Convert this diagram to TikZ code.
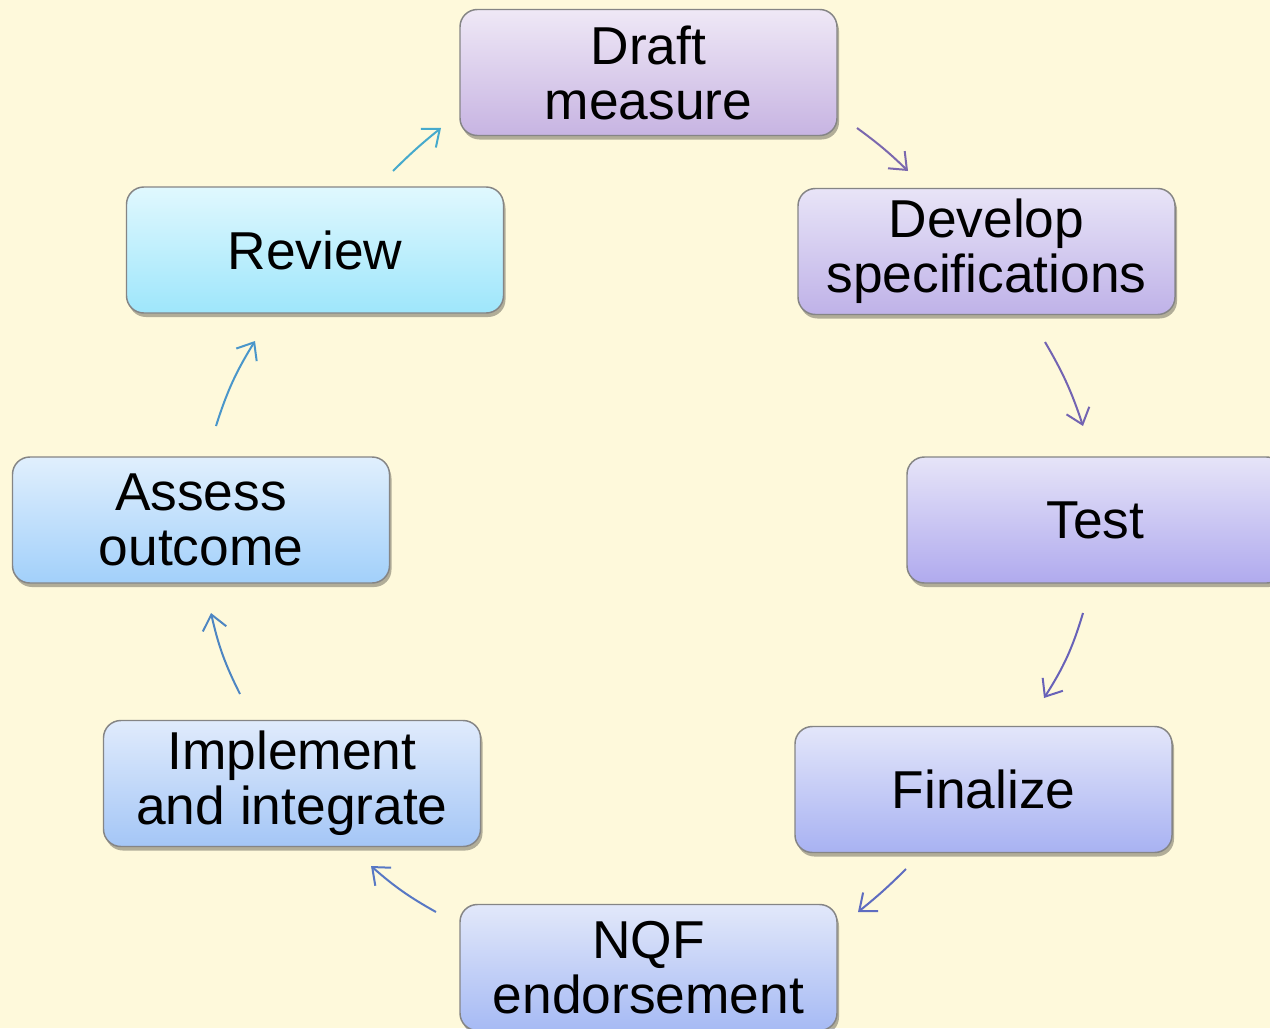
\documentclass[tikz,border=0pt]{standalone}
\usepackage{fontspec}
\setmainfont{Liberation Sans}
\usetikzlibrary{arrows.meta,shadows}
\definecolor{bg}{HTML}{FEF9DB}
\definecolor{boxborder}{HTML}{858585}
\definecolor{c1}{HTML}{7B68AE}
\definecolor{c2}{HTML}{7364B2}
\definecolor{c3}{HTML}{6862B8}
\definecolor{c4}{HTML}{5E6CC0}
\definecolor{c5}{HTML}{5878C4}
\definecolor{c6}{HTML}{4E86C2}
\definecolor{c7}{HTML}{4A96CA}
\definecolor{c8}{HTML}{46AACC}
\definecolor{t1}{HTML}{EFE8F6}\definecolor{b1}{HTML}{C7B4E2}
\definecolor{t2}{HTML}{E8E4F7}\definecolor{b2}{HTML}{BFB2E8}
\definecolor{t3}{HTML}{E6E4F8}\definecolor{b3}{HTML}{B0AAEE}
\definecolor{t4}{HTML}{E3E6FA}\definecolor{b4}{HTML}{A8B2F2}
\definecolor{t5}{HTML}{E2E8FA}\definecolor{b5}{HTML}{A6BAF4}
\definecolor{t6}{HTML}{E0EBFC}\definecolor{b6}{HTML}{A4C6F6}
\definecolor{t7}{HTML}{E0EFFD}\definecolor{b7}{HTML}{A2D0FA}
\definecolor{t8}{HTML}{E0F8FE}\definecolor{b8}{HTML}{9EE6FB}
\begin{document}
\begin{tikzpicture}[x=0.75pt,y=-0.75pt,
  box/.style={draw=boxborder, line width=1.1pt, rounded corners=13pt,
    minimum width=282.75pt, minimum height=94.5pt, align=center,
    inner sep=0pt,
    font=\fontsize{40}{41.25}\selectfont,
    drop shadow={shadow xshift=1.5pt, shadow yshift=-3pt, opacity=0.3, fill=black}},
  arr/.style={line width=1.5pt, -{Straight Barb[length=11pt,width=18pt]}}]
\fill[bg] (0,0) rectangle (1270,1028);
\clip (0,0) rectangle (1270,1028);

\node[box, top color=t1, bottom color=b1] (draft) at (648.5,72.5) {Draft\\measure};
\node[box, top color=t2, bottom color=b2] (develop) at (986.5,251.5) {Develop\\specifications};
\node[box, top color=t3, bottom color=b3] (test) at (1095.5,520) {Test};
\node[box, top color=t4, bottom color=b4] (finalize) at (983.5,789.5) {Finalize};
\node[box, top color=t5, bottom color=b5] (nqf) at (648.5,967.5) {NQF\\endorsement};
\node[box, top color=t6, bottom color=b6] (implement) at (292,783.5) {Implement\\and integrate};
\node[box, top color=t7, bottom color=b7] (assess) at (201,520) {Assess\\outcome};
\node[box, top color=t8, bottom color=b8] (review) at (315,250) {Review};

\coordinate (a1s) at (857,128);  \coordinate (a1e) at (908,171);
\coordinate (a2s) at (1045,342); \coordinate (a2e) at (1083,426);
\coordinate (a3s) at (1083,613); \coordinate (a3e) at (1044,698);
\coordinate (a4s) at (906,869);  \coordinate (a4e) at (858,912);
\coordinate (a5s) at (436,912);  \coordinate (a5e) at (371,866);
\coordinate (a6s) at (240,694);  \coordinate (a6e) at (211,613);
\coordinate (a7s) at (216,426);  \coordinate (a7e) at (255,341);
\coordinate (a8s) at (393,171);  \coordinate (a8e) at (441,128);

\draw[arr, c1] (a1s) to[bend left=4] (a1e);
\draw[arr, c2] (a2s) to[bend left=6] (a2e);
\draw[arr, c3] (a3s) to[bend left=8] (a3e);
\draw[arr, c4] (a4s) to[bend left=3] (a4e);
\draw[arr, c5] (a5s) to[bend left=6] (a5e);
\draw[arr, c6] (a6s) to[bend left=7] (a6e);
\draw[arr, c7] (a7s) to[bend left=7] (a7e);
\draw[arr, c8] (a8s) to[bend left=3] (a8e);
\end{tikzpicture}
\end{document}
